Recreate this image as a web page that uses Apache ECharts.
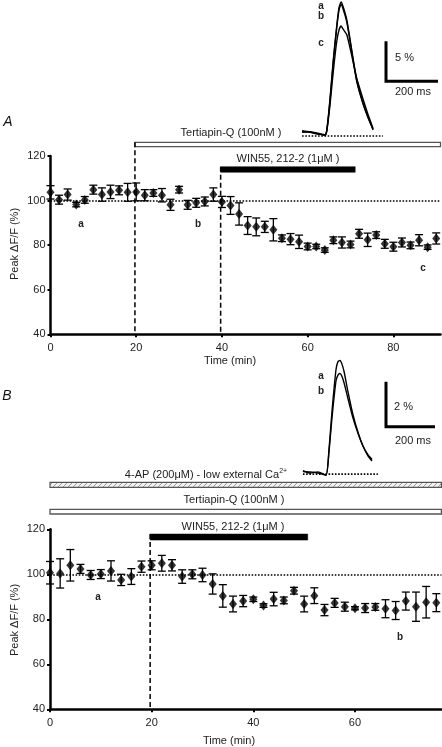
<!DOCTYPE html>
<html><head><meta charset="utf-8">
<script src="https://cdn.jsdelivr.net/npm/echarts@6/dist/echarts.min.js"></script>
<style>html,body{margin:0;padding:0;background:#fff}#c{width:442px;height:747px}</style>
</head><body><div id="c"></div>
<script>
// ---------- Data: panel A ----------
const timeA = [0,2,4,6,8,10,12,14,16,18,20,22,24,26,28,30,32,34,36,38,40,42,44,46,48,50,52,54,56,58,60,62,64,66,68,70,72,74,76,78,80,82,84,86,88,90];
const valueA = [103.7,100.4,102.7,98.2,100.3,104.9,102.7,103.9,104.6,103.7,103.9,102.4,103.4,102.4,98.1,104.9,98.1,99.0,99.6,102.7,99.4,97.8,94.0,88.8,88.2,88.2,86.9,83.1,82.7,81.5,79.4,79.4,77.8,82.2,81.2,80.3,85.1,82.4,84.5,80.6,79.3,81.2,79.9,82.2,79.1,83.0];
const errA = [3,2,2.5,1,1.5,2,3,3,2,4,4,2.5,1.5,3,2.5,1.5,2,2,2,3,2.5,4,5,4,4,2.5,5,1.5,2.5,3,1.5,1,1,1.5,2.5,1.5,2,3,1.5,2,2,2,1.5,2.5,1,2.5];
const tertiapinA = [19.7, 91];
const winA = [39.7, 71.1];
// ---------- Data: panel B ----------
const timeB = [0,2,4,6,8,10,12,14,16,18,20,22,24,26,28,30,32,34,36,38,40,42,44,46,48,50,52,54,56,58,60,62,64,66,68,70,72,74,76];
const valueB = [100.7,100.4,104.0,102.4,99.7,100.1,101.5,97.5,99.0,103.4,104.0,104.9,104.0,99.0,100.0,99.7,95.7,90.4,86.8,88.1,88.9,86.1,89.0,88.4,92.7,86.8,90.5,84.1,87.3,85.6,84.9,85.0,85.5,84.7,83.9,88.1,85.6,87.6,87.4];
const errB = [5,6.5,7,2,2,2,4.5,2.5,3.5,2.5,2,3.5,2.5,3,2,3,4.5,5,3.5,2.5,1,0.8,3,1.5,1.5,3.5,3.5,2.5,2,2,0.7,2,1.5,4,4,4,6.5,7,4];
const fourAPB = [0, 77];
const tertiapinB = [0, 77];
const winB = [19.7, 50.7];
// ---------- Axis ticks ----------
const yTicks = [40,60,80,100,120];
const xTicksA = [0,20,40,60,80];
const xTicksB = [0,20,40,60];
// ---------- Inset traces (ms, %) ----------
const traceTA = [8,38,69,96,103,115,128,141,150,158,166,180,199,218,242,262,281];
const traceAa = [0.4,0.25,0,-0.1,0.5,4.25,9.25,13.4,15.8,16.5,15.9,14.25,10.5,6.75,3.9,2.1,0.5];
const traceAb = [0.2,0.3,0.1,-0.2,0.4,4.0,9.0,13.2,15.5,16.2,15.6,14.0,10.3,6.6,3.8,2.0,0.6];
const traceAc = [0.3,0.2,0,-0.1,0.4,3.5,7.8,11.5,13.0,13.5,13.1,12.4,9.8,7.0,4.4,2.4,0.7];
const traceTB = [12,41,73,106,118,131,147,155,163,171,180,196,216,237,257,278,294];
const traceBa = [0.06,0.05,0,-0.1,1.0,2.8,4.6,4.95,5.0,4.85,4.5,3.6,2.6,1.8,1.2,0.75,0.53];
const traceBb = [0.1,0.0,0.05,-0.1,0.9,2.5,4.1,4.35,4.42,4.3,4.0,3.3,2.45,1.75,1.2,0.8,0.6];
const baselineA = [8, 319];
const baselineB = [12, 318];
const scaleA = [200, 5];   // ms, %
const scaleB = [200, 2];

const FONT = 'Liberation Sans, Arial, sans-serif';
const zip = (a, b, c) => a.map((v, i) => c ? [v, b[i], c[i]] : [v, b[i]]);

// hatch pattern for 4-AP bar
const pat = document.createElement('canvas');
pat.width = 5; pat.height = 5;
(function(){ const g = pat.getContext('2d'); g.fillStyle = '#f2f2f2'; g.fillRect(0,0,5,5);
  g.strokeStyle = '#9a9a9a'; g.lineWidth = 1; g.beginPath(); g.moveTo(0,5); g.lineTo(5,0); g.stroke(); })();

function errRender(params, api) {
  const x = api.value(0), y = api.value(1), e = api.value(2);
  const t = api.coord([x, y + e]), b = api.coord([x, y - e]);
  const hw = 4, st = {stroke: '#000', lineWidth: 1.3};
  return {type: 'group', children: [
    {type: 'line', shape: {x1: t[0], y1: t[1], x2: b[0], y2: b[1]}, style: st},
    {type: 'line', shape: {x1: t[0]-hw, y1: t[1], x2: t[0]+hw, y2: t[1]}, style: st},
    {type: 'line', shape: {x1: b[0]-hw, y1: b[1], x2: b[0]+hw, y2: b[1]}, style: st}
  ]};
}
// bar styling (levels in axis units, kept out of data arrays)
function barSeries(gi, periods, looks) {
  return {
    type: 'custom', xAxisIndex: gi, yAxisIndex: gi, clip: false, silent: true, z: 5,
    data: periods.map((p, i) => [p[0], p[1], i]),
    renderItem: (params, api) => {
      const i = api.value(2), lk = looks[i];
      const p0 = api.coord([api.value(0), lk.lv[0]]), p1 = api.coord([api.value(1), lk.lv[1]]);
      const ch = [];
      let style;
      if (lk.kind === 'open') style = {fill: '#fff', stroke: '#555', lineWidth: 1.3};
      else if (lk.kind === 'hatch') style = {fill: {image: pat, repeat: 'repeat'}, stroke: '#555', lineWidth: 1.2};
      else style = {fill: '#000', stroke: '#000', lineWidth: 0.5};
      ch.push({type: 'rect', shape: {x: p0[0], y: p0[1], width: p1[0]-p0[0], height: p1[1]-p0[1]}, style});
      if (lk.dash) {
        const d = api.coord([api.value(0), 40]);
        ch.push({type: 'line', shape: {x1: p0[0], y1: p0[1], x2: d[0], y2: d[1]},
          style: {stroke: '#000', lineWidth: 1.5, lineDash: [5, 3]}});
      }
      return {type: 'group', children: ch};
    }
  };
}

function xAxisMain(gi, max, ticks) {
  return {gridIndex: gi, type: 'value', min: 0, max, interval: 20,
    axisLine: {lineStyle: {color: '#000', width: 2.5}},
    axisTick: {show: true, length: 3, inside: false, customValues: ticks, lineStyle: {color: '#000', width: 2}},
    axisLabel: {customValues: ticks, color: '#222', fontFamily: FONT, fontSize: 11, margin: 8},
    splitLine: {show: false}};
}
function yAxisMain(gi) {
  return {gridIndex: gi, type: 'value', min: 40, max: 120, interval: 20,
    axisLine: {show: true, lineStyle: {color: '#000', width: 2.5}},
    axisTick: {show: true, length: 3, customValues: yTicks, lineStyle: {color: '#000', width: 2}},
    axisLabel: {customValues: yTicks, color: '#222', fontFamily: FONT, fontSize: 11, margin: 5},
    splitLine: {show: false}};
}
const hidden = (gi, min, max) => ({gridIndex: gi, type: 'value', min, max, show: false, splitLine: {show: false}});

function mainSeries(gi, t, v, e) {
  return [
    {type: 'custom', xAxisIndex: gi, yAxisIndex: gi, data: zip(t, v, e), renderItem: errRender, z: 3, silent: true},
    {type: 'scatter', xAxisIndex: gi, yAxisIndex: gi, data: zip(t, v), symbol: 'diamond', symbolSize: [8, 10],
      itemStyle: {color: '#000'}, z: 4, silent: true,
      markLine: {silent: true, symbol: 'none', label: {show: false},
        lineStyle: {color: '#000', type: 'dotted', width: 1.6}, data: [{yAxis: 100}]}}
  ];
}
const lineS = (gi, data, extra) => Object.assign({type: 'line', xAxisIndex: gi, yAxisIndex: gi, data, showSymbol: false,
  symbol: 'none', silent: true, clip: false, lineStyle: {color: '#000', width: 1.4}, z: 3}, extra || {});

const txt = (x, y, text, o) => ({type: 'text', x, y, silent: true,
  style: Object.assign({text, font: '11px ' + FONT, fill: '#222', textAlign: 'center', textVerticalAlign: 'middle'}, o || {})});

const option = {
  backgroundColor: '#fff',
  animation: false,
  grid: [
    {left: 50.5, top: 156, width: 390, height: 178.3, containLabel: false, outerBoundsMode: 'none'},
    {left: 50, top: 529.3, width: 391.4, height: 180, containLabel: false, outerBoundsMode: 'none'},
    {left: 300, top: 0, width: 140.4, height: 142, containLabel: false, outerBoundsMode: 'none'},
    {left: 300, top: 349.25, width: 137.2, height: 135, containLabel: false, outerBoundsMode: 'none'}
  ],
  xAxis: [xAxisMain(0, 91, xTicksA), xAxisMain(1, 77, xTicksB), hidden(2, 0, 540), hidden(3, 0, 560)],
  yAxis: [yAxisMain(0), yAxisMain(1), hidden(2, -1, 16.75), hidden(3, -0.5, 5.5)],
  series: [
    ...mainSeries(0, timeA, valueA, errA),
    ...mainSeries(1, timeB, valueB, errB),
    barSeries(0, [tertiapinA, winA], [
      {lv: [126.15, 124.17], kind: 'open', dash: true},
      {lv: [115.2, 112.7], kind: 'solid', dash: true}]),
    barSeries(1, [fourAPB, tertiapinB, winB], [
      {lv: [140.9, 138.67], kind: 'hatch', dash: false},
      {lv: [128.9, 126.8], kind: 'open', dash: false},
      {lv: [117.9, 115.2], kind: 'solid', dash: true}]),
    // inset A
    lineS(2, zip(traceTA, traceAa), {smooth: 0.2}),
    lineS(2, zip(traceTA, traceAb), {smooth: 0.2}),
    lineS(2, zip(traceTA, traceAc), {smooth: 0.2}),
    lineS(2, [[baselineA[0], -0.25], [baselineA[1], -0.25]], {lineStyle: {color: '#000', width: 1.6, type: 'dotted'}}),
    lineS(2, [[330.8, 6.6 + scaleA[1]], [330.8, 6.6], [330.8 + scaleA[0], 6.6]], {lineStyle: {color: '#000', width: 3, join: 'miter'}}),
    // inset B
    lineS(3, zip(traceTB, traceBa), {smooth: 0.2}),
    lineS(3, zip(traceTB, traceBb), {smooth: 0.2}),
    lineS(3, [[baselineB[0], -0.05], [baselineB[1], -0.05]], {lineStyle: {color: '#000', width: 1.6, type: 'dotted'}}),
    lineS(3, [[351, 2.06 + scaleB[1]], [351, 2.06], [351 + scaleB[0], 2.06]], {lineStyle: {color: '#000', width: 3, join: 'miter'}})
  ],
  graphic: [
    txt(8, 122, 'A', {font: 'italic 14px ' + FONT, fill: '#111'}),
    txt(7, 396, 'B', {font: 'italic 14px ' + FONT, fill: '#111'}),
    txt(15, 244, 'Peak \u0394F/F (%)', {}),
    txt(15, 620, 'Peak \u0394F/F (%)', {}),
    txt(230, 361, 'Time (min)'),
    txt(229, 741, 'Time (min)'),
    txt(231, 133, 'Tertiapin-Q (100nM )'),
    txt(288, 159, 'WIN55, 212-2 (1\u03bcM )'),
    txt(234, 500, 'Tertiapin-Q (100nM )'),
    txt(233, 527, 'WIN55, 212-2 (1\u03bcM )'),
    {type: 'text', x: 206, y: 474, silent: true, style: {
      text: '{n|4-AP (200\u03bcM) - low external Ca}{s|2+}', textAlign: 'center', textVerticalAlign: 'middle',
      rich: {n: {font: '11px ' + FONT, fill: '#222', color: '#222', lineHeight: 13, verticalAlign: 'bottom'},
             s: {font: '7px ' + FONT, fill: '#222', color: '#222', lineHeight: 13, verticalAlign: 'top'}}}},
    // letters
    txt(81, 224, 'a', {font: 'bold 10px ' + FONT}),
    txt(198, 224, 'b', {font: 'bold 10px ' + FONT}),
    txt(423, 268, 'c', {font: 'bold 10px ' + FONT}),
    txt(321, 6, 'a', {font: 'bold 10px ' + FONT}),
    txt(321, 16, 'b', {font: 'bold 10px ' + FONT}),
    txt(321, 43, 'c', {font: 'bold 10px ' + FONT}),
    txt(98, 597, 'a', {font: 'bold 10px ' + FONT}),
    txt(400, 637, 'b', {font: 'bold 10px ' + FONT}),
    txt(321, 376, 'a', {font: 'bold 10px ' + FONT}),
    txt(321, 391, 'b', {font: 'bold 10px ' + FONT}),
    // scale bar labels
    txt(395, 58, '5 %', {textAlign: 'left'}),
    txt(413, 92, '200 ms'),
    txt(394, 407, '2 %', {textAlign: 'left'}),
    txt(413, 441, '200 ms')
  ]
};
// rotate y titles
option.graphic[2].rotation = Math.PI / 2;
option.graphic[3].rotation = Math.PI / 2;

const chart = echarts.init(document.getElementById('c'), null, {renderer: 'canvas'});
chart.setOption(option);
</script></body></html>
